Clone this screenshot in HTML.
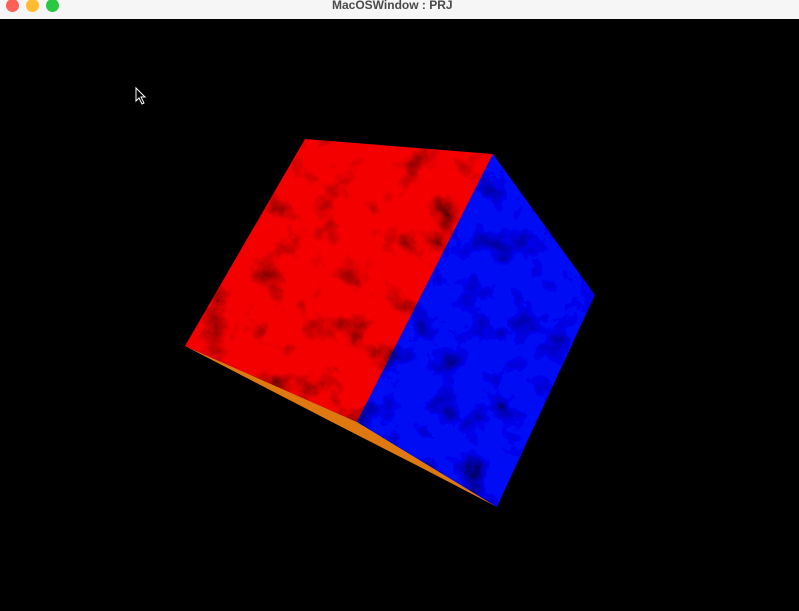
<!DOCTYPE html>
<html><head><meta charset="utf-8"><style>
html,body{margin:0;padding:0;width:799px;height:611px;overflow:hidden;background:#000;font-family:"Liberation Sans",sans-serif}
#bar{position:absolute;left:0;top:0;width:799px;height:19px;background:#f6f6f6}
.dot{position:absolute;top:-1px;width:13px;height:13px;border-radius:50%}
#title{position:absolute;left:0;width:799px;top:0;height:13px;font-size:12px;font-weight:bold;color:#4a4a4a;line-height:11px}
</style></head><body>
<div id="bar">
<div class="dot" style="left:6px;background:#fe5f57"></div>
<div class="dot" style="left:26px;background:#febc2e"></div>
<div class="dot" style="left:46px;background:#28c840"></div>
<div id="title"><span style="position:absolute;left:332px;top:0">MacOSWindow : PRJ</span></div>
</div>
<svg width="799" height="611" style="position:absolute;left:0;top:0">
<defs>
<filter id="marble" x="0" y="0" width="100%" height="100%">
<feTurbulence type="fractalNoise" baseFrequency="0.035" numOctaves="4" seed="3" result="n"/>
<feColorMatrix in="n" type="matrix" values="0 0 0 0 0  0 0 0 0 0  0 0 0 0 0  -2.2 0 0 0 1.05" result="a"/>
<feComposite in="a" in2="SourceGraphic" operator="in" result="d"/>
<feMerge><feMergeNode in="SourceGraphic"/><feMergeNode in="d"/></feMerge>
</filter>
</defs>
<polygon points="185,346 357,422 497,507 420,467 330,421" fill="#e07810"/>
<polygon points="305,139 493,154 357,422 185,346" fill="#f40000" filter="url(#marble)"/>
<polygon points="493,154 595,295 497,507 357,422" fill="#0008f4" filter="url(#marble)"/>
<path d="M136,88 L136,101 L139,98 L142,104 L144,103 L141,97 L145,97 Z" fill="#000" stroke="#fff" stroke-width="1"/>
</svg>
</body></html>
